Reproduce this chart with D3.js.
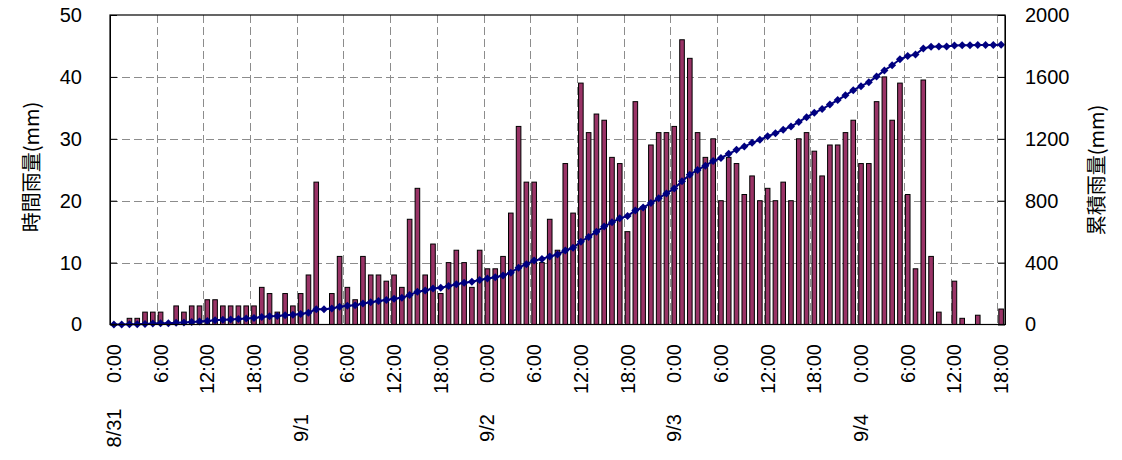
<!DOCTYPE html>
<html>
<head>
<meta charset="utf-8">
<script src="https://cdn.jsdelivr.net/npm/d3@7"></script>
<style>
  body { margin: 0; background: #fff; }
  svg { display: block; }
  text { font-family: "Liberation Sans", Arial, "Noto Sans CJK JP", sans-serif; }
</style>
</head>
<body>
<div id="chart"></div>
<script>
// hourly rainfall (mm), 8/31 0:00 .. 9/4 18:00, one value per hour
const hourly = [
  0, 0, 1, 1, 2, 2, 2, 0, 3, 2, 3, 3, 4, 4, 3, 3, 3, 3, 3, 6,
  5, 2, 5, 3, 5, 8, 23, 0, 5, 11, 6, 4, 11, 8, 8, 7, 8, 6, 17, 22,
  8, 13, 5, 10, 12, 10, 6, 12, 9, 9, 11, 18, 32, 23, 23, 10, 17, 12, 26, 18,
  39, 31, 34, 33, 27, 26, 15, 36, 19, 29, 31, 31, 32, 46, 43, 31, 27, 30, 20, 27,
  26, 21, 24, 20, 22, 20, 23, 20, 30, 31, 28, 24, 29, 29, 31, 33, 26, 26, 36, 40,
  33, 39, 21, 9, 39.5, 11, 2, 0, 7, 1, 0, 1.5, 0, 0, 2.5
];
// x tick labels, one every 6 hours
const timeLabels = [
  "0:00", "6:00", "12:00", "18:00",
  "0:00", "6:00", "12:00", "18:00",
  "0:00", "6:00", "12:00", "18:00",
  "0:00", "6:00", "12:00", "18:00",
  "0:00", "6:00", "12:00", "18:00"
];
const dayLabels = ["8/31", "9/1", "9/2", "9/3", "9/4"];
const leftTicks = [0, 10, 20, 30, 40, 50];
const rightTicks = [0, 400, 800, 1200, 1600, 2000];

// cumulative rainfall follows from the hourly totals
const cumulative = Array.from(d3.cumsum(hourly));

const W = 1122, H = 460;
const plot = { left: 110, right: 1005, top: 15, bottom: 324.5 };

const svg = d3.select("#chart").append("svg")
  .attr("width", W).attr("height", H);

const x = d3.scaleBand()
  .domain(hourly.map((d, i) => i))
  .range([plot.left, plot.right]);
const yL = d3.scaleLinear().domain([0, 50]).range([plot.bottom, plot.top]);
const yR = d3.scaleLinear().domain([0, 2000]).range([plot.bottom, plot.top]);
const bw = x.bandwidth();
const cx = i => x(i) + bw / 2;

// gridlines
const grid = svg.append("g")
  .attr("stroke", "#8c8c8c")
  .attr("stroke-width", 1)
  .attr("stroke-dasharray", "8,4");
grid.selectAll("line.h")
  .data(leftTicks.slice(1, -1))
  .join("line")
  .attr("class", "h")
  .attr("x1", plot.left).attr("x2", plot.right)
  .attr("y1", d => Math.round(yL(d)) + 0.5)
  .attr("y2", d => Math.round(yL(d)) + 0.5);
grid.selectAll("line.v")
  .data(timeLabels.map((d, k) => k * 6).slice(1))
  .join("line")
  .attr("class", "v")
  .attr("x1", d => Math.round(x(d)) + 0.5)
  .attr("x2", d => Math.round(x(d)) + 0.5)
  .attr("y1", plot.top).attr("y2", plot.bottom);

// bars
svg.append("g")
  .selectAll("rect")
  .data(hourly)
  .join("rect")
  .attr("x", (d, i) => cx(i) - 2.3)
  .attr("width", 4.6)
  .attr("y", d => yL(d))
  .attr("height", d => plot.bottom - yL(d))
  .attr("fill", "#993366")
  .attr("stroke", "#000")
  .attr("stroke-width", d => d > 0 ? 1 : 0);

// cumulative line with diamond markers
const line = d3.line()
  .x((d, i) => cx(i))
  .y(d => yR(d));
svg.append("path")
  .datum(cumulative)
  .attr("d", line)
  .attr("fill", "none")
  .attr("stroke", "#000080")
  .attr("stroke-width", 2);
svg.append("g")
  .selectAll("path")
  .data(cumulative)
  .join("path")
  .attr("transform", (d, i) => `translate(${cx(i)},${yR(d)})`)
  .attr("d", "M0,-4L4,0L0,4L-4,0Z")
  .attr("fill", "#000080");

// plot border
svg.append("rect")
  .attr("x", plot.left).attr("y", plot.top)
  .attr("width", plot.right - plot.left)
  .attr("height", plot.bottom - plot.top)
  .attr("fill", "none")
  .attr("stroke", "#000")
  .attr("stroke-width", 1.2);

// left axis
const axL = svg.append("g")
  .attr("transform", `translate(${plot.left},0)`)
  .call(d3.axisLeft(yL).tickValues(leftTicks).tickSizeInner(-7).tickSizeOuter(0).tickPadding(28));
axL.select(".domain").attr("stroke", "#000");
axL.selectAll("text").attr("font-size", 20).attr("fill", "#000")
  .style("font-family", "'Liberation Sans', Arial, sans-serif");

// right axis
const axR = svg.append("g")
  .attr("transform", `translate(${plot.right},0)`)
  .call(d3.axisRight(yR).tickValues(rightTicks).tickFormat(d3.format("d"))
    .tickSizeInner(-7).tickSizeOuter(0).tickPadding(20));
axR.select(".domain").attr("stroke", "#000");
axR.selectAll("text").attr("font-size", 20).attr("fill", "#000")
  .style("font-family", "'Liberation Sans', Arial, sans-serif");

// x tick labels (rotated)
svg.append("g")
  .selectAll("text")
  .data(timeLabels)
  .join("text")
  .attr("transform", (d, k) => `translate(${cx(k * 6) + 7},344) rotate(-90)`)
  .attr("text-anchor", "end")
  .attr("font-size", 20)
  .attr("fill", "#000")
  .text(d => d);

svg.append("g")
  .selectAll("text")
  .data(dayLabels)
  .join("text")
  .attr("transform", (d, k) => `translate(${cx(k * 24) + 7},428) rotate(-90)`)
  .attr("text-anchor", "middle")
  .attr("font-size", 20)
  .attr("fill", "#000")
  .text(d => d);

// axis titles
svg.append("text")
  .attr("transform", `translate(39,167) rotate(-90)`)
  .attr("text-anchor", "middle")
  .attr("font-size", 20)
  .attr("fill", "#000")
  .style("font-family", "'Noto Sans CJK JP', sans-serif")
  .text("時間雨量(mm)");
svg.append("text")
  .attr("transform", `translate(1104,170) rotate(-90)`)
  .attr("text-anchor", "middle")
  .attr("font-size", 20)
  .attr("fill", "#000")
  .style("font-family", "'Noto Sans CJK JP', sans-serif")
  .text("累積雨量(mm)");
</script>
</body>
</html>
